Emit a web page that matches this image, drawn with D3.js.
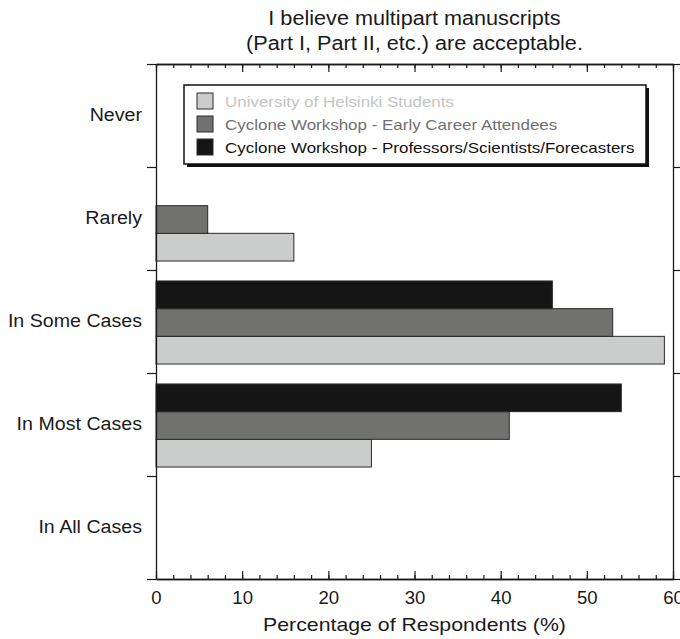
<!DOCTYPE html>
<html>
<head>
<meta charset="utf-8">
<script src="https://cdn.jsdelivr.net/npm/d3@7"></script>
<style>
  body { margin: 0; background: #fff; }
  text { font-family: "Liberation Sans", Arial, sans-serif; fill: #1a1a1a; }
</style>
</head>
<body>
<div id="plot"></div>
<script>
// Data
const categories = ["Never", "Rarely", "In Some Cases", "In Most Cases", "In All Cases"];
const seriesNames = [
  "University of Helsinki Students",
  "Cyclone Workshop - Early Career Attendees",
  "Cyclone Workshop - Professors/Scientists/Forecasters"
];
const students = [0, 16, 59, 25, 0];
const earlyCareer = [0, 6, 53, 41, 0];
const professors = [0, 0, 46, 54, 0];
const xTicks = [0, 10, 20, 30, 40, 50, 60];

const width = 680, height = 639;
const margin = { top: 64, bottom: 60, left: 156, right: 7 };

const seriesValues = [students, earlyCareer, professors];
const colors = ["#cbcdcc", "#71716f", "#151515"];
const legendText = ["#c4c4c4", "#707070", "#111"];

const rows = [];
categories.forEach((c, i) => {
  seriesNames.forEach((s, j) => rows.push({ category: c, series: s, value: seriesValues[j][i] }));
});

const svg = d3.select('#plot')
  .append('svg')
  .attr('width', width)
  .attr('height', height);

// Scales
const x = d3.scaleLinear()
  .domain([0, 60])
  .range([margin.left, width - margin.right]);

const y = d3.scaleBand()
  .domain(categories)
  .range([margin.top, height - margin.bottom]);

// bars drawn top to bottom: professors, early career, students
const y1 = d3.scaleBand()
  .domain([seriesNames[2], seriesNames[1], seriesNames[0]])
  .range([0, y.bandwidth()])
  .paddingOuter(0.36)
  .align(0.55);

const color = d3.scaleOrdinal().domain(seriesNames).range(colors);

// Bars
svg.append('g')
  .selectAll('g')
  .data(d3.group(rows, d => d.category))
  .join('g')
  .attr('transform', d => `translate(0,${y(d[0])})`)
  .selectAll('rect')
  .data(d => d[1].filter(r => r.value > 0))
  .join('rect')
  .attr('x', x(0))
  .attr('y', d => y1(d.series))
  .attr('width', d => x(d.value) - x(0))
  .attr('height', y1.bandwidth())
  .attr('fill', d => color(d.series))
  .attr('stroke', '#2a2a2a')
  .attr('stroke-width', 1);

// Frame and axes
const bottomY = height - margin.bottom;
const fmt = d3.format('d');

// bottom: major + minor ticks pointing inward
svg.append('g')
  .attr('transform', `translate(0,${bottomY})`)
  .call(d3.axisBottom(x).tickValues(d3.range(0, 61, 2)).tickSize(-4).tickFormat('').tickSizeOuter(0));
const xAxis = svg.append('g')
  .attr('transform', `translate(0,${bottomY})`)
  .call(d3.axisBottom(x).tickValues(xTicks).tickSize(-8).tickPadding(12).tickFormat(fmt).tickSizeOuter(0));
xAxis.selectAll('text').style('font-size', '18px').attr('fill', '#1a1a1a').attr('data-stretch', 1.03);

// top: ticks pointing inward, no labels
svg.append('g')
  .attr('transform', `translate(0,${margin.top})`)
  .call(d3.axisTop(x).tickValues(d3.range(0, 61, 2)).tickSize(-4).tickFormat('').tickSizeOuter(0));
svg.append('g')
  .attr('transform', `translate(0,${margin.top})`)
  .call(d3.axisTop(x).tickValues(xTicks).tickSize(-8).tickFormat('').tickSizeOuter(0));

// left / right: ticks at the category boundaries, pointing outward
const bounds = d3.scaleLinear().domain([0, categories.length]).range([margin.top, bottomY]);
svg.append('g')
  .attr('transform', `translate(${margin.left},0)`)
  .call(d3.axisLeft(bounds).tickValues(d3.range(0, categories.length + 1)).tickSize(9).tickFormat('').tickSizeOuter(0));
svg.append('g')
  .attr('transform', `translate(${width - margin.right},0)`)
  .call(d3.axisRight(bounds).tickValues(d3.range(0, categories.length + 1)).tickSize(9).tickFormat('').tickSizeOuter(0));

// category labels
const yAxis = svg.append('g')
  .attr('transform', `translate(${margin.left},0)`)
  .call(d3.axisLeft(y).tickSize(0).tickPadding(14));
yAxis.select('.domain').remove();
yAxis.selectAll('text').style('font-size', '18px').attr('fill', '#1a1a1a').attr('data-stretch', 1.09);

svg.selectAll('.domain').attr('stroke', '#1a1a1a').attr('stroke-width', 1.3);
svg.selectAll('.tick line').attr('stroke', '#1a1a1a').attr('stroke-width', 1.2);

// Title
const cx = (margin.left + width - margin.right) / 2;
svg.append('text')
  .attr('x', cx)
  .attr('y', 25)
  .attr('text-anchor', 'middle')
  .attr('data-stretch', 1.11)
  .style('font-size', '19.5px')
  .text('I believe multipart manuscripts');
svg.append('text')
  .attr('x', cx)
  .attr('y', 50)
  .attr('text-anchor', 'middle')
  .attr('data-stretch', 1.11)
  .style('font-size', '19.5px')
  .text('(Part I, Part II, etc.) are acceptable.');

// x-axis label
svg.append('text')
  .attr('x', cx)
  .attr('y', 631)
  .attr('text-anchor', 'middle')
  .attr('data-stretch', 1.12)
  .style('font-size', '19px')
  .text('Percentage of Respondents (%)');

// Legend
const legend = svg.append('g').attr('transform', 'translate(184,85)');
legend.append('rect')
  .attr('x', 3).attr('y', 3).attr('width', 462).attr('height', 79)
  .attr('fill', '#111');
legend.append('rect')
  .attr('width', 462).attr('height', 79)
  .attr('fill', '#fff').attr('stroke', '#111').attr('stroke-width', 1.5);

legend.selectAll('.sw')
  .data(seriesNames)
  .join('rect')
  .attr('class', 'sw')
  .attr('x', 13)
  .attr('y', (d, i) => 8 + i * 23)
  .attr('width', 16)
  .attr('height', 16)
  .attr('fill', d => color(d))
  .attr('stroke', '#2a2a2a');

legend.selectAll('.lt')
  .data(seriesNames)
  .join('text')
  .attr('class', 'lt')
  .attr('x', 41)
  .attr('y', (d, i) => 22 + i * 23)
  .attr('data-stretch', 1.13)
  .style('font-size', '15px')
  .style('fill', (d, i) => legendText[i])
  .text(d => d);

// widen glyphs slightly to match the original typeface
svg.selectAll('text').each(function () {
  const k = +this.getAttribute('data-stretch') || 1;
  const len = this.getComputedTextLength();
  if (len > 0 && k !== 1) d3.select(this).attr('textLength', len * k).attr('lengthAdjust', 'spacingAndGlyphs');
});
</script>
</body>
</html>
